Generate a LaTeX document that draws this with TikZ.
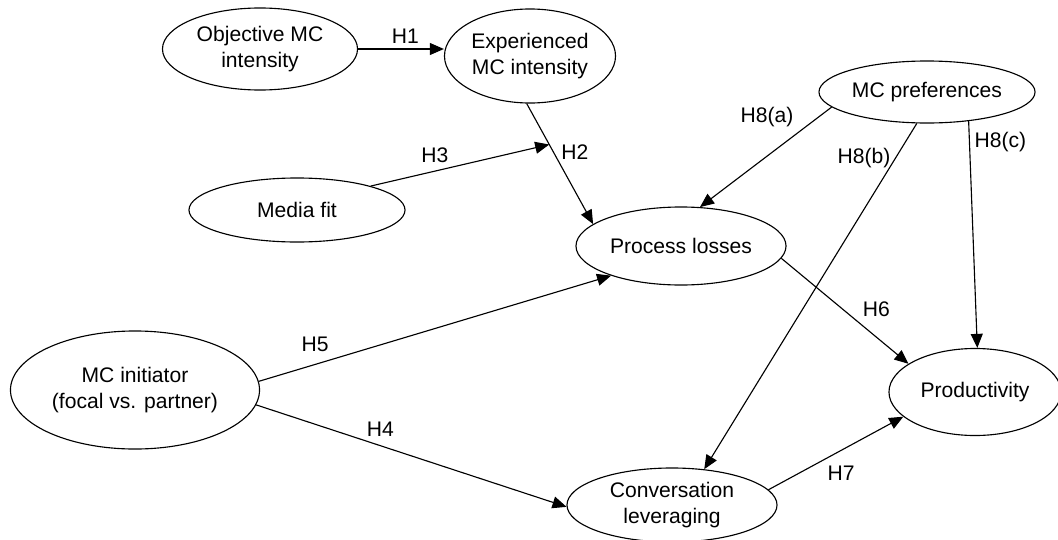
\documentclass[tikz,border=0pt]{standalone}
\usepackage{fontspec}
\setmainfont{Liberation Sans}
\usepackage{tikz}
\usetikzlibrary{arrows.meta,positioning,calc,shapes.geometric}

\begin{document}
\begin{tikzpicture}[x=0.025cm,y=-0.025cm,
    font=\fontsize{15}{18.5}\selectfont,
    var/.style={draw,ellipse,inner sep=0pt,align=center,line width=0.8pt},
    arr/.style={-{Triangle[length=10pt,width=8.5pt]},line width=0.8pt}]
  \useasboundingbox (0,0) rectangle (1058,539);

  \node[var,minimum width=4.875cm,minimum height=2.05cm] (obj) at (260,49) {Objective MC\\intensity};
  \node[var,minimum width=4.275cm,minimum height=2.35cm] (exp) at (530,56) {Experienced\\MC intensity};
  \node[var,minimum width=5.4cm,minimum height=1.55cm] (pref) at (927,92) {MC preferences};
  \node[var,minimum width=5.4cm,minimum height=1.6cm] (media) at (297,210) {Media fit};
  \node[var,minimum width=5.25cm,minimum height=1.95cm] (loss) at (681,246) {Process losses};
  \node[var,minimum width=6.225cm,minimum height=2.95cm] (init) at (135,390) {MC initiator\\(focal vs. partner)};
  \node[var,minimum width=4.3cm,minimum height=2.175cm] (prod) at (975,392) {Productivity};
  \node[var,minimum width=5.25cm,minimum height=1.85cm] (conv) at (672,505) {Conversation\\leveraging};

  \coordinate (h2) at ($(exp.266)!0.34!(loss.166)$);

  \draw[arr] (obj.east) -- node[above,pos=0.55] (l1) {H1} (obj.east -| exp.west);
  \draw[arr] (exp.266) -- node[right=2pt,pos=0.4] (l2) {H2} (loss.166);
  \draw[arr] (media.18) -- node[above=2.5pt,pos=0.36] (l3) {H3} (h2);
  \draw[arr] (init.-7) -- node[above=3pt,pos=0.4] (l4) {H4} (conv.181);
  \draw[arr] (init.4) -- node[above=5pt,pos=0.16] (l5) {H5} (loss.203);
  \draw[arr] (loss.-7) -- node[above right,pos=0.6] (l6) {H6} (prod.157);
  \draw[arr] (conv.9) -- node[below right,pos=0.4] (l7) {H7} (prod.199);
  \draw[arr] (pref.189) -- node[above left,pos=0.25] (l8a) {H8(a)} (loss.64);
  \draw[arr] (pref.252) -- node[left,pos=0.1] (l8b) {H8(b)} (conv.48);
  \draw[arr] (pref.-35) -- node[right,pos=0.09] (l8c) {H8(c)} (prod.87);
\end{tikzpicture}
\end{document}
